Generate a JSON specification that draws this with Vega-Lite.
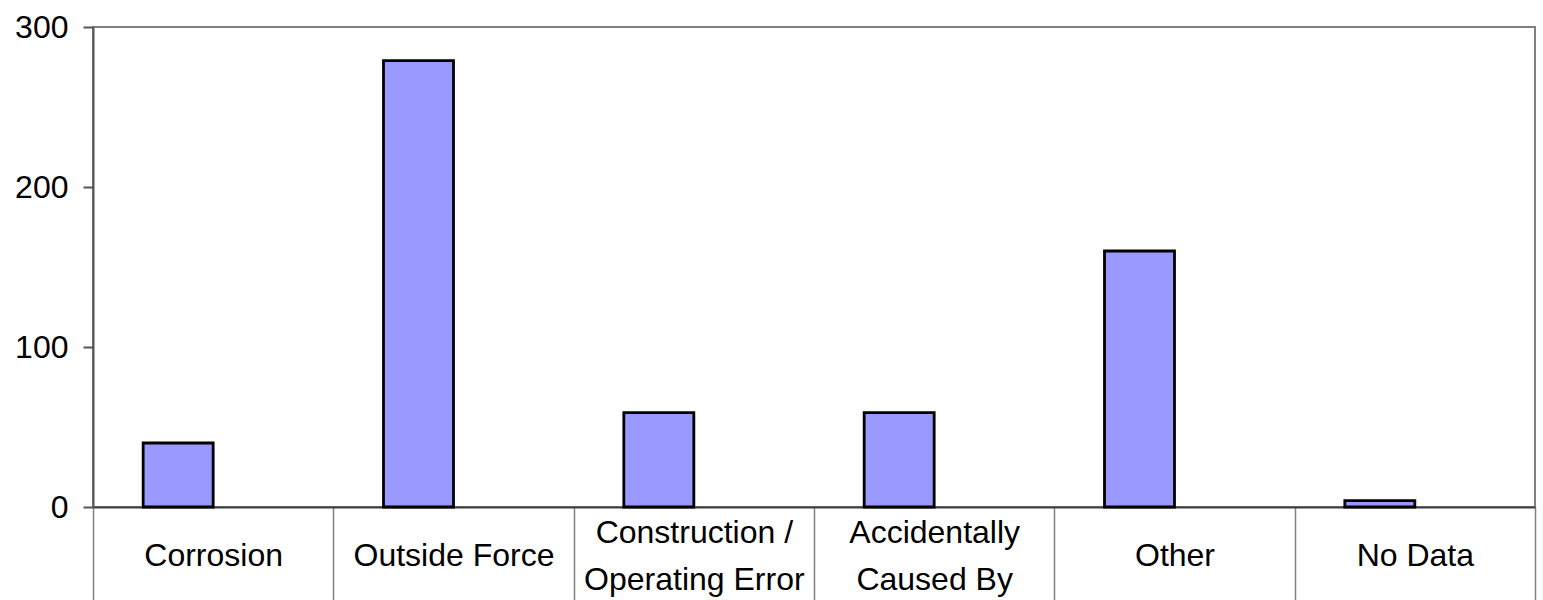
{
  "$schema": "https://vega.github.io/schema/vega-lite/v6.json",
  "width": 1442,
  "height": 480,
  "autosize": {"type": "none"},
  "padding": {"left": 93, "top": 27, "right": 8, "bottom": 93},
  "background": "white",
  "config": {
    "font": "Liberation Sans",
    "view": {"stroke": "#808080", "strokeWidth": 2}
  },
  "data": {
    "values": [
      {"cause": "Corrosion", "incidents": 40},
      {"cause": "Outside Force", "incidents": 279},
      {"cause": "Construction / Operating Error", "incidents": 59},
      {"cause": "Accidentally Caused By", "incidents": 59},
      {"cause": "Other", "incidents": 160},
      {"cause": "No Data", "incidents": 4}
    ]
  },
  "mark": {
    "type": "bar",
    "fill": "#9999FF",
    "stroke": "#000000",
    "strokeWidth": 2.8,
    "width": {"band": 0.2913},
    "xOffset": -35
  },
  "encoding": {
    "x": {
      "field": "cause",
      "type": "nominal",
      "sort": null,
      "title": null,
      "scale": {"paddingInner": 0, "paddingOuter": 0},
      "axis": {
        "labelAngle": 0,
        "labelFont": "Liberation Sans",
        "labelFontSize": 32,
        "labelColor": "#000000",
        "labelBaseline": "middle",
        "labelLineHeight": 47,
        "labelPadding": {
          "condition": {
            "test": "datum.value == 'Construction / Operating Error' || datum.value == 'Accidentally Caused By'",
            "value": -68
          },
          "value": -45
        },
        "labelOverlap": false,
        "labelBound": false,
        "labelFlush": false,
        "labelLimit": 0,
        "labelExpr": "datum.value == 'Construction / Operating Error' ? ['Construction /', 'Operating Error'] : datum.value == 'Accidentally Caused By' ? ['Accidentally', 'Caused By'] : datum.label",
        "tickBand": "extent",
        "tickSize": 93,
        "tickColor": "#808080",
        "tickWidth": 1.5,
        "domainColor": "#404040",
        "domainWidth": 2
      }
    },
    "y": {
      "field": "incidents",
      "type": "quantitative",
      "title": null,
      "scale": {"domain": [0, 300], "nice": false},
      "axis": {
        "values": [0, 100, 200, 300],
        "grid": false,
        "labelFont": "Liberation Sans",
        "labelFontSize": 32,
        "labelColor": "#000000",
        "labelPadding": 15,
        "tickSize": 10,
        "tickColor": "#555555",
        "tickWidth": 2,
        "domainColor": "#555555",
        "domainWidth": 2
      }
    }
  }
}
